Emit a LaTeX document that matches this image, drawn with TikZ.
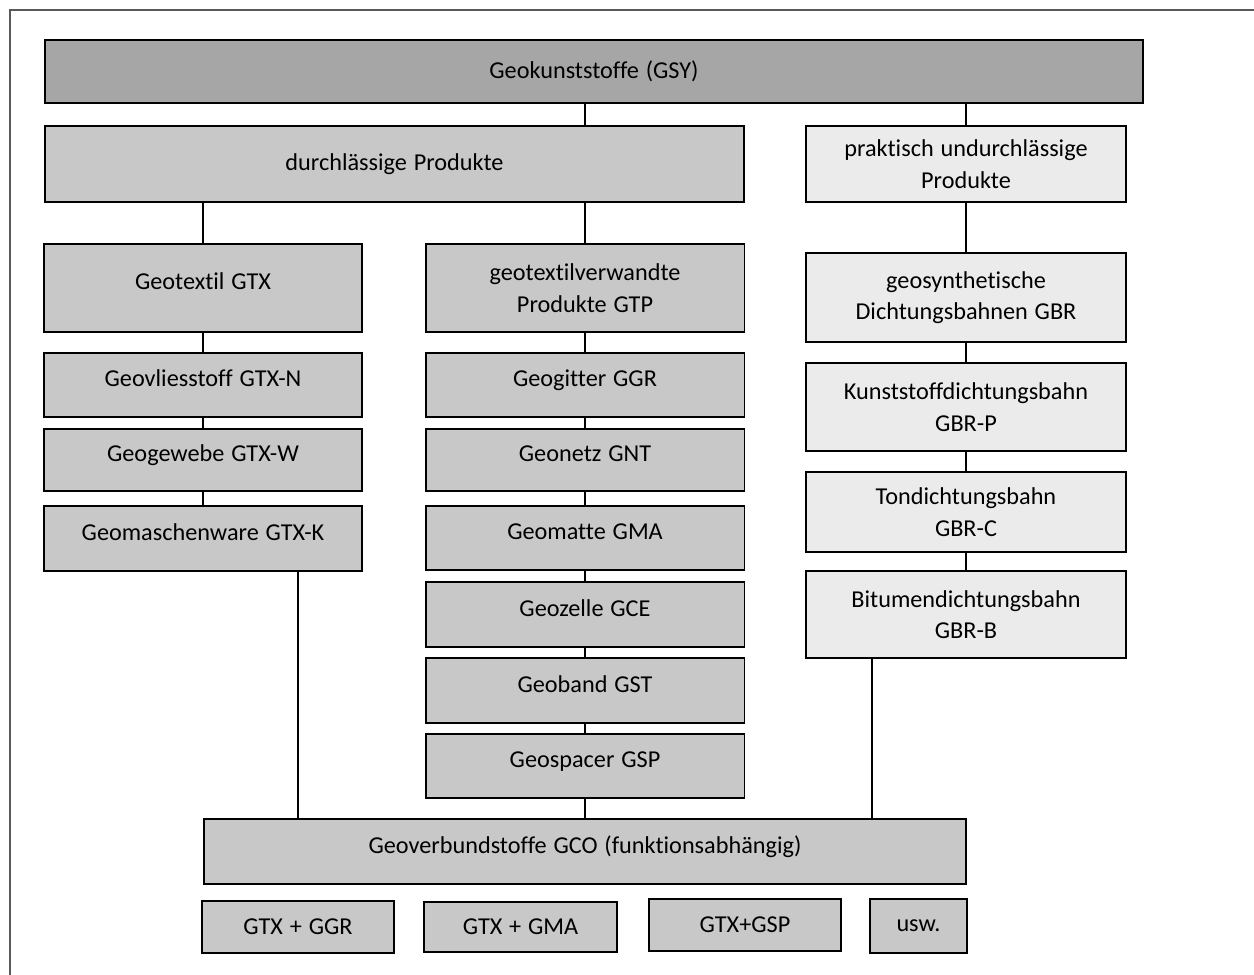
\documentclass[tikz,border=0pt]{standalone}
\usepackage{fontspec}
\setmainfont{Carlito}[Ligatures=NoCommon, WordSpace=1.25]
\usepackage{tikz}
\usetikzlibrary{positioning, calc}

\definecolor{gsydark}{HTML}{A6A6A6}
\definecolor{gsymid}{HTML}{C8C8C8}
\definecolor{gsylight}{HTML}{EBEBEB}

\begin{document}
\begin{tikzpicture}[x=0.02cm, y=-0.02cm,%
        box/.style={rectangle, draw=black, line width=1.1pt, fill=gsymid, inner sep=0pt, align=center, font=\fontsize{13.8}{18}\selectfont},
        topbox/.style={box, fill=gsydark},
        lightbox/.style={box, fill=gsylight},
        oneline/.style={text height=0.7em, text depth=0.5em},
        link/.style={line width=0.7pt, black}%
    ]
        \useasboundingbox (0,0) rectangle (1254,974);
        \draw[gray!70!black, line width=0.6pt] (10,980) -- (10,10) -- (1260,10);

        \node[topbox, minimum width=21.96cm, minimum height=1.26cm] (gsy) at (594, 71.5) {Geokunststoffe (GSY)};
        \node[box, minimum width=13.98cm, minimum height=1.52cm] (perm) at (394.5, 164) {durchlässige Produkte};
        \node[lightbox, minimum width=6.4cm, minimum height=1.52cm] (imperm) at (966, 164) {praktisch undurchlässige\\Produkte};

        % durchlaessige Produkte, links
        \node[box, oneline, minimum width=6.36cm, minimum height=1.76cm] (gtx) at (203, 288) {Geotextil GTX};
        \node[box, oneline, minimum width=6.36cm, minimum height=1.28cm] (gtxn) at (203, 385) {Geovliesstoff GTX-N};
        \node[box, oneline, minimum width=6.36cm, minimum height=1.24cm] (gtxw) at (203, 460) {Geogewebe GTX-W};
        \node[box, oneline, minimum width=6.36cm, minimum height=1.3cm] (gtxk) at (203, 538.5) {Geomaschenware GTX-K};

        % durchlaessige Produkte, Mitte
        \node[box, minimum width=6.38cm, minimum height=1.76cm] (gtp) at (585, 288) {geotextilverwandte\\Produkte GTP};
        \node[box, oneline, minimum width=6.38cm, minimum height=1.28cm] (ggr) at (585, 385) {Geogitter GGR};
        \node[box, oneline, minimum width=6.38cm, minimum height=1.24cm] (gnt) at (585, 460) {Geonetz GNT};
        \node[box, oneline, minimum width=6.38cm, minimum height=1.28cm] (gma) at (585, 538) {Geomatte GMA};
        \node[box, oneline, minimum width=6.38cm, minimum height=1.3cm] (gce) at (585, 614.5) {Geozelle GCE};
        \node[box, oneline, minimum width=6.38cm, minimum height=1.3cm] (gst) at (585, 690.5) {Geoband GST};
        \node[box, oneline, minimum width=6.38cm, minimum height=1.28cm] (gsp) at (585, 766) {Geospacer GSP};

        % undurchlaessige Produkte
        \node[lightbox, minimum width=6.4cm, minimum height=1.78cm] (gbr) at (966, 297.5) {geosynthetische\\Dichtungsbahnen GBR};
        \node[lightbox, minimum width=6.4cm, minimum height=1.76cm] (gbrp) at (966, 407) {Kunststoffdichtungsbahn\\GBR-P};
        \node[lightbox, minimum width=6.4cm, minimum height=1.6cm] (gbrc) at (966, 512) {Tondichtungsbahn\\GBR-C};
        \node[lightbox, minimum width=6.4cm, minimum height=1.74cm] (gbrb) at (966, 614.5) {Bitumendichtungsbahn\\GBR-B};

        % Verbundstoffe
        \node[box, oneline, minimum width=15.24cm, minimum height=1.3cm] (gco) at (585, 851.5) {Geoverbundstoffe GCO (funktionsabhängig)};
        \node[box, minimum width=3.84cm, minimum height=1.04cm] (cggr) at (298, 927) {GTX + GGR};
        \node[box, minimum width=3.86cm, minimum height=1.0cm] (cgma) at (520.5, 927) {GTX + GMA};
        \node[box, minimum width=3.84cm, minimum height=1.04cm] (cgsp) at (745, 925) {GTX+GSP};
        \node[box, minimum width=1.94cm, minimum height=1.08cm] (usw) at (918.5, 926) {usw.};

        \draw[link] (gsy.south -| gtp) -- (perm.north -| gtp);
        \draw[link] (gsy.south -| imperm) -- (imperm);
        \draw[link] (perm.south -| gtx) -- (gtx);
        \draw[link] (perm.south -| gtp) -- (gtp);

        \draw[link] (gtx) -- (gtxn);
        \draw[link] (gtxn) -- (gtxw);
        \draw[link] (gtxw) -- (gtxk);

        \draw[link] (gtp) -- (ggr);
        \draw[link] (ggr) -- (gnt);
        \draw[link] (gnt) -- (gma);
        \draw[link] (gma) -- (gce);
        \draw[link] (gce) -- (gst);
        \draw[link] (gst) -- (gsp);

        \draw[link] (imperm) -- (gbr);
        \draw[link] (gbr) -- (gbrp);
        \draw[link] (gbrp) -- (gbrc);
        \draw[link] (gbrc) -- (gbrb);

        \draw[link] (gtxk.south -| cggr) -- (gco.north -| cggr);
        \draw[link] (gsp) -- (gco);
        \draw[link] ([xshift=-1.88cm]gbrb.south) -- ([xshift=-1.88cm]gbrb.south |- gco.north);
    \end{tikzpicture}
\end{document}
